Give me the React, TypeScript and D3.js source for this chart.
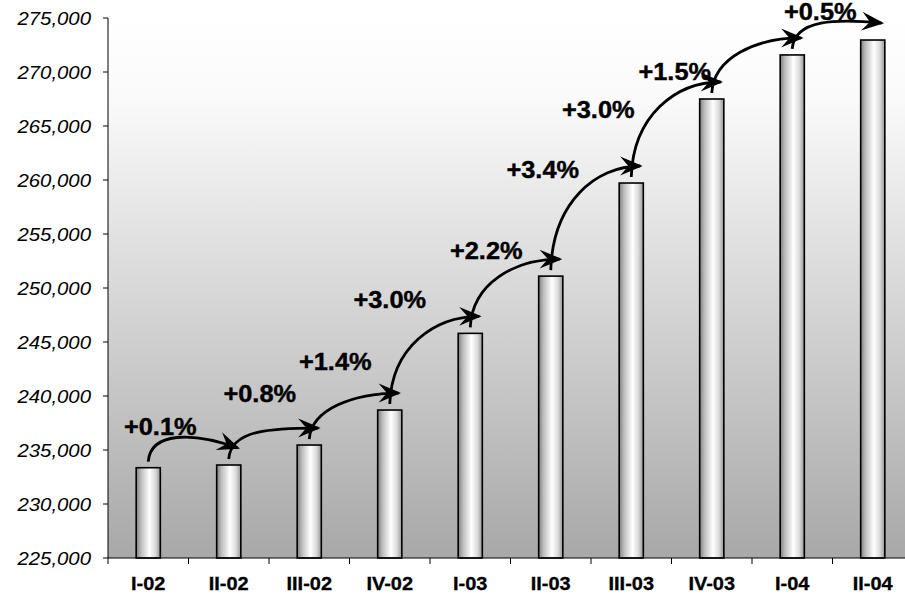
import * as d3 from "d3";

// quarters and values
const categories = ["I-02", "II-02", "III-02", "IV-02", "I-03", "II-03", "III-03", "IV-03", "I-04", "II-04"];
const values = [233360, 233610, 235460, 238700, 245800, 251100, 259720, 267500, 271580, 272960];
const growthLabels = ["+0.1%", "+0.8%", "+1.4%", "+3.0%", "+2.2%", "+3.4%", "+3.0%", "+1.5%", "+0.5%"];
const yTicks = [225000, 230000, 235000, 240000, 245000, 250000, 255000, 260000, 265000, 270000, 275000];

// hand placement of the growth labels (dx from bar centre, dy from next bar top)
const labelNudge = [[12, -30], [31, -43], [26, -40], [0, -25], [16, -17], [-8, -5], [-33, 19], [-37, 25], [28, -20]];

const W = 905, H = 595;
const margin = { left: 108, top: 18, bottom: 37, right: -8 };
const font = "'Liberation Sans', Arial, Helvetica, sans-serif";

export default function App() {
  const x = d3.scaleBand<string>()
    .domain(categories)
    .range([margin.left, W - margin.right])
    .paddingInner(0.7)
    .paddingOuter(0.35);
  const y = d3.scaleLinear().domain([225000, 275000]).range([H - margin.bottom, margin.top]);
  const step = x.step();
  const cx = (i: number) => x(categories[i])! + x.bandwidth() / 2;
  const y0 = y.range()[0];

  const arrows = growthLabels.map((label, i) => {
    const sx = cx(i), sy = y(values[i]) - 6;
    const ex = cx(i + 1) + 9, ey = y(values[i + 1]) - 17;
    const dx = ex - sx, dy = sy - ey;
    const lift = Math.max(dy * 0.65, 30);
    const p = d3.path();
    p.moveTo(sx, sy);
    p.bezierCurveTo(sx + 2, sy - lift, ex - dx * 0.5, Math.min(ey, sy - lift), ex, ey);
    return {
      d: p.toString(),
      label,
      lx: cx(i) + labelNudge[i][0],
      ly: y(values[i + 1]) + labelNudge[i][1],
    };
  });

  return (
    <svg width={W} height={H} style={{ position: "absolute", left: 0, top: 0, background: "#fff" }}>
      <defs>
        <linearGradient id="bg" x1="0" y1="0" x2="0" y2="1">
          <stop offset="0" stopColor="#ffffff" />
          <stop offset="0.15" stopColor="#fafafa" />
          <stop offset="1" stopColor="#a8a8a8" />
        </linearGradient>
        <linearGradient id="bar" x1="0" y1="0" x2="1" y2="0">
          <stop offset="0" stopColor="#7e7e7e" />
          <stop offset="0.2" stopColor="#bdbdbd" />
          <stop offset="0.55" stopColor="#ffffff" />
          <stop offset="0.8" stopColor="#dadada" />
          <stop offset="1" stopColor="#959595" />
        </linearGradient>
        <marker id="head" markerUnits="userSpaceOnUse" markerWidth="26" markerHeight="26"
          viewBox="-20 -10 22 20" refX="0" refY="0" orient="auto">
          <path d="M2,0 L-17,-8 L-10,0 L-17,8 Z" fill="#000" />
        </marker>
      </defs>

      <rect x={margin.left} y={margin.top} width={W - margin.right - margin.left}
        height={y0 - margin.top} fill="url(#bg)" />

      {values.map((v, i) => (
        <rect key={categories[i]} x={x(categories[i])} y={y(v)} width={x.bandwidth()}
          height={y0 - y(v)} fill="url(#bar)" stroke="#000" strokeWidth={1.6} />
      ))}

      {/* y axis */}
      <line x1={margin.left} x2={margin.left} y1={margin.top} y2={y0} stroke="#000" />
      {yTicks.map(t => (
        <g key={t}>
          <line x1={margin.left - 5} x2={margin.left} y1={y(t)} y2={y(t)} stroke="#000" />
          <text transform={`translate(91,${y(t) + 6.5}) scale(1.1,1)`} textAnchor="end"
            fontFamily={font} fontStyle="italic" fontSize={18.5} fill="#000">
            {d3.format(",")(t)}
          </text>
        </g>
      ))}

      {/* x axis */}
      <line x1={margin.left} x2={W} y1={y0} y2={y0} stroke="#000" />
      {categories.map((c, i) => (
        <g key={c}>
          <line x1={cx(i) - step / 2} x2={cx(i) - step / 2} y1={y0} y2={y0 + 6} stroke="#000" />
          <text transform={`translate(${cx(i)},590) scale(1.08,1)`} textAnchor="middle"
            fontFamily={font} fontWeight="bold" fontSize={18.5} fill="#000"
            stroke="#000" strokeWidth={0.3}>
            {c}
          </text>
        </g>
      ))}

      {/* growth arrows */}
      {arrows.map((a, i) => (
        <g key={i}>
          <path d={a.d} fill="none" stroke="#000" strokeWidth={2.8} markerEnd="url(#head)" />
          <text transform={`translate(${a.lx},${a.ly}) scale(1.08,1)`} textAnchor="middle"
            fontFamily={font} fontWeight="bold" fontSize={23.5} fill="#000"
            stroke="#000" strokeWidth={0.4}>
            {a.label}
          </text>
        </g>
      ))}
    </svg>
  );
}
